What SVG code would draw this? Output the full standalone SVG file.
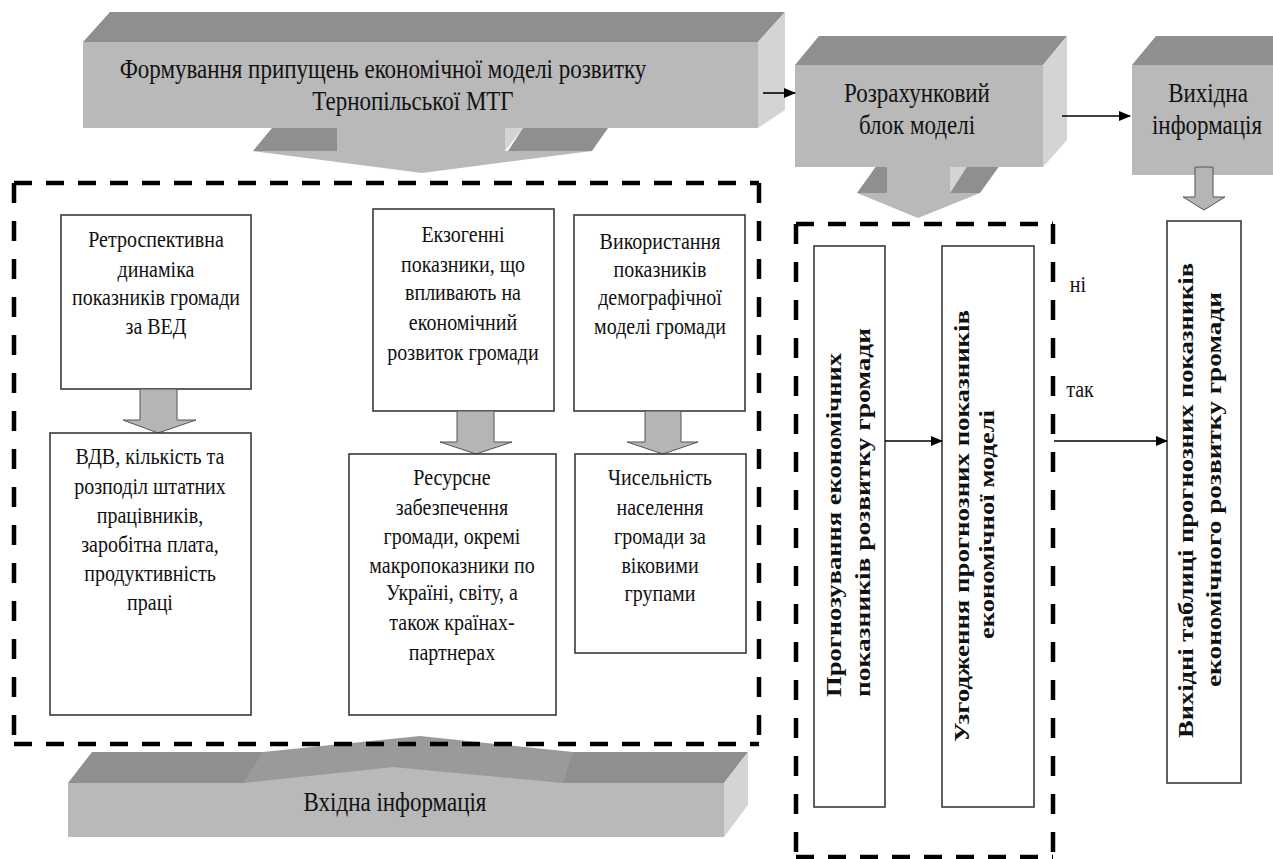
<svg xmlns="http://www.w3.org/2000/svg" width="1273" height="859" viewBox="0 0 1273 859">
<defs>
<style>
.front{fill:#b9b9b9}
.top{fill:#8f8f8f}
.side{fill:#d4d4d4}
.mid{fill:#9a9a9a}
.box{fill:#fff;stroke:#3a3a3a;stroke-width:1.6}
.t{font-family:"Liberation Serif","Times New Roman","DejaVu Serif",serif;font-size:20px;fill:#111;text-anchor:middle}
.tb{font-family:"Liberation Serif","Times New Roman","DejaVu Serif",serif;font-size:23px;fill:#111;text-anchor:middle}
.tv{font-family:"Liberation Serif","Times New Roman","DejaVu Serif",serif;font-size:21px;font-weight:bold;fill:#111}
.dh{stroke:#000;stroke-width:4.5;stroke-dasharray:18 14;fill:none}
.dv{stroke:#000;stroke-width:4.5;stroke-dasharray:20 18;fill:none}
.conn{stroke:#000;stroke-width:1.6;fill:none;marker-end:url(#ah)}
.barrow{fill:#b5b5b5;stroke:#555;stroke-width:1}
</style>
<marker id="ah" viewBox="0 0 12 10" refX="11" refY="5" markerWidth="12" markerHeight="10" markerUnits="userSpaceOnUse" orient="auto">
<path d="M0,0 L12,5 L0,10 Z" fill="#000"/>
</marker>
</defs>

<g id="top-banner">
<polygon class="top" points="272,128 337,128 337,151 253,151"/>
<rect class="front" x="337" y="128" width="168" height="23"/>
<polygon class="side" points="505,128 523,128 505,151"/>
<polygon class="top" points="523,128 608,128 592,151 508,151"/>
<polygon class="front" points="253,151 592,151 422,173"/>
<polygon class="top" points="83,42 110,12 785,12 758,42"/>
<polygon class="side" points="758,42 785,12 785,110 758,128"/>
<rect class="front" x="83" y="42" width="675" height="86"/>
<text class="tb" x="383" y="0" transform="translate(0,78) scale(1,1.15)">Формування припущень економічної моделі розвитку</text>
<text class="tb" x="413" y="0" transform="translate(0,110) scale(1,1.15)">Тернопільської МТГ</text>
</g>

<g id="calc-block">
<polygon class="top" points="877,165 887,165 887,193 857,193"/>
<rect class="front" x="887" y="165" width="63" height="28"/>
<polygon class="side" points="950,165 968,165 950,193"/>
<polygon class="top" points="968,165 1000,165 980,193 950,193"/>
<polygon class="front" points="857,193 980,193 918,218"/>
<polygon class="top" points="795,65 819,36 1067,36 1043,65"/>
<polygon class="side" points="1043,65 1067,36 1067,140 1043,167"/>
<rect class="front" x="795" y="65" width="248" height="102"/>
<text class="tb" x="917" y="0" transform="translate(0,102) scale(1,1.15)">Розрахунковий</text>
<text class="tb" x="917" y="0" transform="translate(0,134) scale(1,1.15)">блок моделі</text>
</g>

<g id="output-info">
<polygon class="top" points="1132,65 1156,36 1290,36 1290,65"/>
<rect class="front" x="1132" y="65" width="160" height="110"/>
<text class="tb" x="1208" y="0" transform="translate(0,102) scale(1,1.15)">Вихідна</text>
<text class="tb" x="1207" y="0" transform="translate(0,134) scale(1,1.15)">інформація</text>
<polygon class="barrow" points="1195,167 1213,167 1213,197 1225,197 1204,210 1183,197 1195,197"/>
</g>

<g id="left-dashed">
<line class="dh" x1="14" y1="183" x2="759" y2="183"/>
<line class="dv" x1="14" y1="183" x2="14" y2="744"/>
<line class="dv" x1="759" y1="183" x2="759" y2="744"/>
</g>

<g id="retro">
<rect class="box" x="61" y="215" width="190" height="174"/>
<text class="t" x="156" y="0" transform="translate(0,247) scale(1,1.15)">Ретроспективна</text>
<text class="t" x="156" y="0" transform="translate(0,277) scale(1,1.15)">динаміка</text>
<text class="t" x="156" y="0" transform="translate(0,305) scale(1,1.15)">показників громади</text>
<text class="t" x="156" y="0" transform="translate(0,334) scale(1,1.15)">за ВЕД</text>
</g>
<polygon class="barrow" points="140,389 177,389 177,420 196,420 158,433 123,420 140,420"/>

<g id="vdv">
<rect class="box" x="50" y="433" width="201" height="282"/>
<text class="t" x="150" y="0" transform="translate(0,464) scale(1,1.15)">ВДВ, кількість та</text>
<text class="t" x="150" y="0" transform="translate(0,494) scale(1,1.15)">розподіл штатних</text>
<text class="t" x="150" y="0" transform="translate(0,523) scale(1,1.15)">працівників,</text>
<text class="t" x="150" y="0" transform="translate(0,552) scale(1,1.15)">заробітна плата,</text>
<text class="t" x="150" y="0" transform="translate(0,581) scale(1,1.15)">продуктивність</text>
<text class="t" x="150" y="0" transform="translate(0,610) scale(1,1.15)">праці</text>
</g>

<g id="exo">
<rect class="box" x="373" y="209" width="181" height="202"/>
<text class="t" x="463" y="0" transform="translate(0,242) scale(1,1.15)">Екзогенні</text>
<text class="t" x="463" y="0" transform="translate(0,272) scale(1,1.15)">показники, що</text>
<text class="t" x="463" y="0" transform="translate(0,300) scale(1,1.15)">впливають на</text>
<text class="t" x="463" y="0" transform="translate(0,330) scale(1,1.15)">економічний</text>
<text class="t" x="463" y="0" transform="translate(0,360) scale(1,1.15)">розвиток громади</text>
</g>
<polygon class="barrow" points="457,411 494,411 494,442 512,442 476,454 440,442 457,442"/>

<g id="demo">
<rect class="box" x="574" y="215" width="171" height="196"/>
<text class="t" x="660" y="0" transform="translate(0,249) scale(1,1.15)">Використання</text>
<text class="t" x="660" y="0" transform="translate(0,277) scale(1,1.15)">показників</text>
<text class="t" x="660" y="0" transform="translate(0,305) scale(1,1.15)">демографічної</text>
<text class="t" x="660" y="0" transform="translate(0,334) scale(1,1.15)">моделі громади</text>
</g>
<polygon class="barrow" points="645,411 681,411 681,442 698,442 663,454 627,442 645,442"/>

<g id="resource">
<rect class="box" x="349" y="454" width="207" height="261"/>
<text class="t" x="452" y="0" transform="translate(0,485) scale(1,1.15)">Ресурсне</text>
<text class="t" x="452" y="0" transform="translate(0,515) scale(1,1.15)">забезпечення</text>
<text class="t" x="452" y="0" transform="translate(0,544) scale(1,1.15)">громади,  окремі</text>
<text class="t" x="452" y="0" transform="translate(0,573) scale(1,1.15)">макропоказники по</text>
<text class="t" x="452" y="0" transform="translate(0,600) scale(1,1.15)">Україні, світу, а</text>
<text class="t" x="452" y="0" transform="translate(0,630) scale(1,1.15)">також країнах-</text>
<text class="t" x="452" y="0" transform="translate(0,660) scale(1,1.15)">партнерах</text>
</g>

<g id="population">
<rect class="box" x="575" y="454" width="171" height="199"/>
<text class="t" x="660" y="0" transform="translate(0,485) scale(1,1.15)">Чисельність</text>
<text class="t" x="660" y="0" transform="translate(0,515) scale(1,1.15)">населення</text>
<text class="t" x="660" y="0" transform="translate(0,544) scale(1,1.15)">громади за</text>
<text class="t" x="660" y="0" transform="translate(0,573) scale(1,1.15)">віковими</text>
<text class="t" x="660" y="0" transform="translate(0,601) scale(1,1.15)">групами</text>
</g>

<g id="input-banner">
<polygon class="top" points="68,783 92,752 748,752 724,783"/>
<polygon class="mid" points="263,752 420,736 573,752 563,783 393,767 243,783"/>
<polygon class="front" points="243,783 393,767 563,783"/>
<polygon class="side" points="724,783 748,752 748,805 724,837"/>
<rect class="front" x="68" y="783" width="656" height="54"/>
<text class="tb" x="395" y="0" transform="translate(0,811) scale(1,1.15)">Вхідна інформація</text>
</g>
<line class="dh" x1="14" y1="744" x2="759" y2="744"/>

<g id="right-dashed">
<line class="dh" x1="796" y1="224" x2="1053" y2="224"/>
<line class="dh" x1="796" y1="857" x2="1053" y2="857"/>
<line class="dv" x1="796" y1="224" x2="796" y2="857"/>
<line class="dv" x1="1053" y1="224" x2="1053" y2="857"/>
</g>

<g id="forecast">
<rect class="box" x="814" y="246" width="71" height="561"/>
<text class="tv" transform="translate(841,697) rotate(-90)" textLength="344" lengthAdjust="spacingAndGlyphs">Прогнозування економічних</text>
<text class="tv" transform="translate(870,697) rotate(-90)" textLength="369" lengthAdjust="spacingAndGlyphs">показників розвитку громади</text>
</g>

<g id="coordination">
<rect class="box" x="942" y="246" width="92" height="561"/>
<text class="tv" transform="translate(969,742) rotate(-90)" textLength="432" lengthAdjust="spacingAndGlyphs">Узгодження прогнозних показників</text>
<text class="tv" transform="translate(994,639) rotate(-90)" textLength="229" lengthAdjust="spacingAndGlyphs">економічної моделі</text>
</g>

<g id="output-tables">
<rect class="box" x="1167" y="221" width="74" height="562"/>
<text class="tv" transform="translate(1193,738) rotate(-90)" textLength="475" lengthAdjust="spacingAndGlyphs">Вихідні таблиці прогнозних показників</text>
<text class="tv" transform="translate(1221,687) rotate(-90)" textLength="395" lengthAdjust="spacingAndGlyphs">економічного розвитку громади</text>
</g>

<g id="labels">
<text class="t" x="1078" y="0" transform="translate(0,292) scale(1,1.15)">ні</text>
<text class="t" x="1080" y="0" transform="translate(0,397) scale(1,1.15)">так</text>
</g>

<g id="connectors">
<line class="conn" x1="763" y1="93" x2="795" y2="93"/>
<line class="conn" x1="1062" y1="116" x2="1130" y2="116"/>
<line class="conn" x1="885" y1="441" x2="942" y2="441"/>
<line class="conn" x1="1054" y1="441" x2="1167" y2="441"/>
</g>
</svg>
